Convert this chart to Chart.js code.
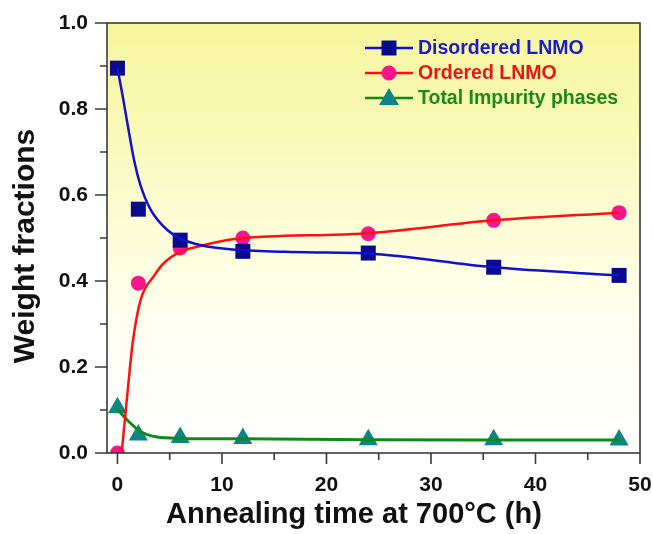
<!DOCTYPE html>
<html>
<head>
<meta charset="utf-8">
<script src="https://cdn.jsdelivr.net/npm/chart.js@4/dist/chart.umd.min.js"></script>
<style>
  html, body { margin: 0; padding: 0; background: #ffffff; }
  #wrap { width: 653px; height: 534px; position: relative; }
</style>
</head>
<body>
<div id="wrap"><canvas id="c" width="653" height="534"></canvas></div>
<script>
// ---- measured data (annealing hours) ----
const hours = [0, 2, 6, 12, 24, 36, 48];
const disordered = [0.895, 0.567, 0.495, 0.469, 0.465, 0.432, 0.413];
const ordered = [0.0, 0.395, 0.477, 0.500, 0.510, 0.541, 0.559];
const impurity = [0.105, 0.042, 0.036, 0.034, 0.031, 0.031, 0.030];

// ---- fitted curves ----
const fitDisX = [0, 0.5, 1, 1.6, 2.2, 3.2, 4.8, 6, 8, 11, 16, 20, 24, 36, 48];
const fitDisY = [0.895, 0.83, 0.76, 0.68, 0.623, 0.565, 0.518, 0.499, 0.483, 0.473, 0.468, 0.466, 0.464, 0.432, 0.413];
const fitOrdX = [0.4, 0.8, 1.0, 1.45, 2.2, 3.5, 4.5, 6, 8, 11, 16, 20, 24, 36, 48];
const fitOrdY = [0.0, 0.10, 0.15, 0.255, 0.355, 0.412, 0.443, 0.468, 0.482, 0.497, 0.505, 0.507, 0.511, 0.541, 0.559];
const fitImpX = [0, 0.5, 1, 2.2, 3.8, 6, 12, 24, 36, 48];
const fitImpY = [0.102, 0.088, 0.075, 0.050, 0.037, 0.034, 0.033, 0.031, 0.030, 0.030];

// ---- ticks & labels ----
const xMajorTicks = [0, 10, 20, 30, 40, 50];
const xMinorTicks = [5, 15, 25, 35, 45];
const yMajorTicks = [0, 0.2, 0.4, 0.6, 0.8, 1.0];
const yMinorTicks = [0.1, 0.3, 0.5, 0.7, 0.9];
const seriesNames = ['Disordered LNMO', 'Ordered LNMO', 'Total Impurity phases'];
const xTitle = 'Annealing time at 700°C (h)';
const yTitle = 'Weight fractions';

const FONT = "'Liberation Sans', Arial, Helvetica, sans-serif";
const C = {
  blueLine: '#1010d0', blueMark: '#0a0a8c', blueText: '#1c1cc4',
  redLine: '#ff1010', redMark: '#f5168e', redText: '#e41818',
  greenLine: '#0f8a1a', greenMark: '#0d8585', greenText: '#1a8a1a'
};

function pts(xs, ys) { return xs.map((x, i) => ({ x: x, y: ys[i] })); }

const bgPlugin = {
  id: 'bg',
  beforeDatasetsDraw(chart) {
    const a = chart.chartArea, ctx = chart.ctx;
    const g = ctx.createLinearGradient(0, a.top, 0, a.bottom);
    g.addColorStop(0, '#f6f69e');
    g.addColorStop(0.25, '#f9f9b8');
    g.addColorStop(0.5, '#fdfdda');
    g.addColorStop(0.72, '#fffff3');
    g.addColorStop(1, '#ffffff');
    ctx.save();
    ctx.fillStyle = g;
    ctx.fillRect(a.left, a.top, a.right - a.left, a.bottom - a.top);
    ctx.restore();
  }
};

function drawMarker(ctx, kind, x, y) {
  ctx.beginPath();
  if (kind === 'rect') {
    ctx.fillStyle = C.blueMark;
    ctx.rect(x - 7.5, y - 7.5, 15, 15);
  } else if (kind === 'circle') {
    ctx.fillStyle = C.redMark;
    ctx.arc(x, y, 7.5, 0, Math.PI * 2);
  } else {
    ctx.fillStyle = C.greenMark;
    ctx.moveTo(x, y - 10);
    ctx.lineTo(x + 10, y + 7);
    ctx.lineTo(x - 10, y + 7);
    ctx.closePath();
  }
  ctx.fill();
}

const framePlugin = {
  id: 'frame',
  afterDraw(chart) {
    const a = chart.chartArea, ctx = chart.ctx;
    const xs = chart.scales.x, ys = chart.scales.y;
    ctx.save();
    ctx.strokeStyle = '#3a3a3a';
    ctx.lineWidth = 1.6;
    ctx.strokeRect(a.left, a.top, a.right - a.left, a.bottom - a.top);
    ctx.beginPath();
    xMajorTicks.forEach(v => { const p = xs.getPixelForValue(v); ctx.moveTo(p, a.bottom); ctx.lineTo(p, a.bottom + 11); });
    xMinorTicks.forEach(v => { const p = xs.getPixelForValue(v); ctx.moveTo(p, a.bottom); ctx.lineTo(p, a.bottom + 7); });
    yMajorTicks.forEach(v => { const p = ys.getPixelForValue(v); ctx.moveTo(a.left, p); ctx.lineTo(a.left - 12, p); });
    yMinorTicks.forEach(v => { const p = ys.getPixelForValue(v); ctx.moveTo(a.left, p); ctx.lineTo(a.left - 7, p); });
    ctx.stroke();

    // axis titles
    ctx.fillStyle = '#111111';
    ctx.textAlign = 'center';
    ctx.textBaseline = 'alphabetic';
    ctx.font = 'bold 29px ' + FONT;
    ctx.fillText(xTitle, 354, 523);
    ctx.save();
    ctx.font = 'bold 30px ' + FONT;
    ctx.translate(34, 246);
    ctx.rotate(-Math.PI / 2);
    ctx.fillText(yTitle, 0, 0);
    ctx.restore();

    // legend
    const rows = [
      { y: 48, line: C.blueLine, kind: 'rect', text: C.blueText },
      { y: 73, line: C.redLine, kind: 'circle', text: C.redText },
      { y: 98, line: C.greenLine, kind: 'tri', text: C.greenText }
    ];
    ctx.font = 'bold 19.5px ' + FONT;
    ctx.textAlign = 'left';
    ctx.textBaseline = 'middle';
    rows.forEach((r, i) => {
      ctx.strokeStyle = r.line;
      ctx.lineWidth = 2.5;
      ctx.beginPath();
      ctx.moveTo(365, r.y);
      ctx.lineTo(413, r.y);
      ctx.stroke();
      drawMarker(ctx, r.kind, 389, r.y);
      ctx.fillStyle = r.text;
      ctx.fillText(seriesNames[i], 418, r.y + 1);
    });
    ctx.restore();
  }
};

const chart = new Chart(document.getElementById('c'), {
  type: 'line',
  data: {
    datasets: [
      { label: seriesNames[0] + ' fit', data: pts(fitDisX, fitDisY), borderColor: C.blueLine, borderWidth: 2.5, pointRadius: 0, cubicInterpolationMode: 'monotone', fill: false },
      { label: seriesNames[1] + ' fit', data: pts(fitOrdX, fitOrdY), borderColor: C.redLine, borderWidth: 2.5, pointRadius: 0, cubicInterpolationMode: 'monotone', fill: false },
      { label: seriesNames[2] + ' fit', data: pts(fitImpX, fitImpY), borderColor: C.greenLine, borderWidth: 3, pointRadius: 0, cubicInterpolationMode: 'monotone', fill: false },
      { label: seriesNames[0], data: pts(hours, disordered), showLine: false, pointStyle: 'rect', pointRadius: 10.6, pointBackgroundColor: C.blueMark, pointBorderColor: C.blueMark, pointBorderWidth: 0 },
      { label: seriesNames[1], data: pts(hours, ordered), showLine: false, pointStyle: 'circle', pointRadius: 7.5, pointBackgroundColor: C.redMark, pointBorderColor: C.redMark, pointBorderWidth: 0 },
      { label: seriesNames[2], data: pts(hours, impurity), showLine: false, pointStyle: 'triangle', pointRadius: 11, pointBackgroundColor: C.greenMark, pointBorderColor: C.greenMark, pointBorderWidth: 0 }
    ]
  },
  options: {
    responsive: false,
    animation: false,
    devicePixelRatio: 1,
    layout: { padding: { top: 23, right: 13, left: 0, bottom: 0 } },
    plugins: { legend: { display: false }, tooltip: { enabled: false } },
    scales: {
      x: {
        type: 'linear', min: -1, max: 50,
        afterBuildTicks: s => { s.ticks = xMajorTicks.map(v => ({ value: v })); },
        afterFit: s => { s.height = 81; s.paddingLeft = 0; s.paddingRight = 0; },
        grid: { display: false },
        border: { display: false },
        ticks: { color: '#111', padding: 12, font: { family: FONT, size: 21, weight: 'bold' }, callback: v => String(v) }
      },
      y: {
        type: 'linear', min: 0, max: 1.0,
        afterBuildTicks: s => { s.ticks = yMajorTicks.map(v => ({ value: v })); },
        afterFit: s => { s.width = 107; s.paddingTop = 0; s.paddingBottom = 0; },
        grid: { display: false },
        border: { display: false },
        ticks: { color: '#111', padding: 11, font: { family: FONT, size: 21, weight: 'bold' }, callback: v => Number(v).toFixed(1) }
      }
    }
  },
  plugins: [bgPlugin, framePlugin]
});
</script>
</body>
</html>
